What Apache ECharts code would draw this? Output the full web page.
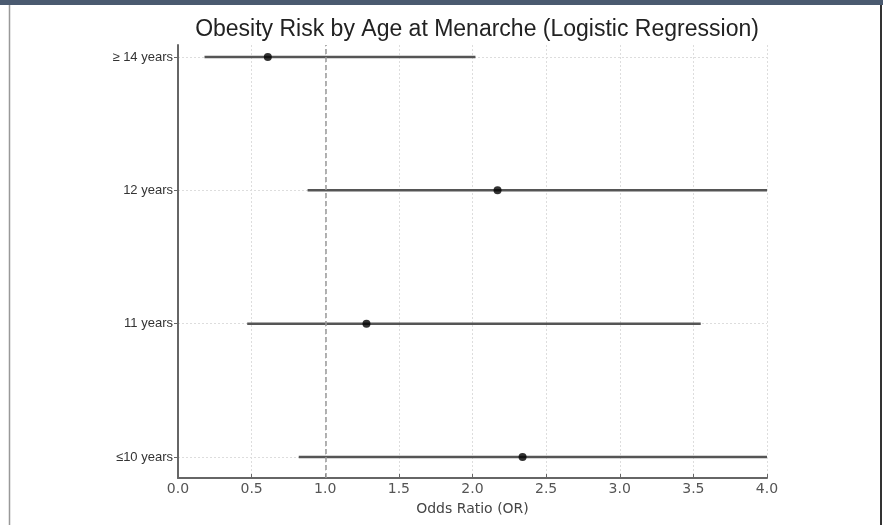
<!DOCTYPE html>
<html>
<head>
<meta charset="utf-8">
<script src="https://cdn.jsdelivr.net/npm/echarts@6/dist/echarts.min.js"></script>
<style>html,body{margin:0;padding:0;background:#fff;}#c{width:883px;height:525px;}</style>
</head>
<body>
<div id="c"></div>
<script>
const categories = ['≤10 years', '11 years', '12 years', '≥ 14 years'];
const oddsRatio = [2.34, 1.28, 2.17, 0.61];
const ciLower = [0.82, 0.47, 0.88, 0.18];
const ciUpper = [4.5, 3.55, 4.5, 2.02];
const xTicks = [0, 0.5, 1.0, 1.5, 2.0, 2.5, 3.0, 3.5, 4.0];
const refLine = 1.0;

const chart = echarts.init(document.getElementById('c'), null, {renderer: 'canvas'});
const catIdx = categories.map((_, i) => i);

const option = {
  backgroundColor: '#fff',
  animation: false,
  title: {
    text: 'Obesity Risk by Age at Menarche (Logistic Regression)',
    left: 472, top: 13, textAlign: 'center',
    textStyle: {fontFamily: 'Liberation Sans', fontSize: 23, fontWeight: 'normal', color: '#222'}
  },
  grid: {left: 178, right: 116, top: 45, bottom: 47, containLabel: false},
  xAxis: {
    type: 'value', min: 0, max: 4, interval: 0.5,
    name: 'Odds Ratio (OR)', nameLocation: 'middle', nameGap: 24,
    nameTextStyle: {fontFamily: 'DejaVu Sans', fontSize: 14, color: '#444'},
    axisLine: {show: true, onZero: false, lineStyle: {color: '#666', width: 2}},
    axisTick: {show: true, inside: true, length: 4, lineStyle: {color: '#666', width: 1}},
    axisLabel: {fontFamily: 'DejaVu Sans', fontSize: 14, color: '#555', margin: 4,
      formatter: v => v.toFixed(1)},
    splitLine: {show: true, lineStyle: {color: '#ddd', type: [2, 2], width: 1}}
  },
  yAxis: {
    type: 'value', min: -0.157, max: 3.09,
    axisLine: {show: true, onZero: false, lineStyle: {color: '#666', width: 2}},
    axisTick: {show: true, customValues: catIdx, length: 4, lineStyle: {color: '#666', width: 1}},
    axisLabel: {customValues: catIdx, fontFamily: 'Liberation Sans', fontSize: 13, color: '#333', margin: 5,
      formatter: v => categories[Math.round(v)]},
    splitLine: {show: false}
  },
  series: [
    {
      type: 'line', data: [], silent: true, z: 0,
      markLine: {
        silent: true, symbol: 'none', label: {show: false}, z: 0,
        lineStyle: {color: '#ddd', type: [2, 2], width: 1},
        data: catIdx.map(i => ({yAxis: i}))
      }
    },
    {
      type: 'custom', clip: true, silent: true, z: 4,
      data: catIdx.map(i => [ciLower[i], ciUpper[i], i]),
      renderItem: function (params, api) {
        const a = api.coord([api.value(0), api.value(2)]);
        const b = api.coord([api.value(1), api.value(2)]);
        return {type: 'line', shape: {x1: a[0], y1: a[1], x2: b[0], y2: b[1]},
          style: {stroke: '#555', lineWidth: 2.5}};
      },
      encode: {x: [0, 1], y: 2}
    },
    {
      type: 'line', data: [], silent: true, z: 3,
      markLine: {
        silent: true, symbol: 'none', label: {show: false},
        lineStyle: {color: '#999', type: [5, 3], width: 1.5},
        data: [{xAxis: refLine}]
      }
    },
    {
      type: 'scatter', z: 5, symbol: 'circle', symbolSize: 8,
      itemStyle: {color: '#000'},
      data: catIdx.map(i => [oddsRatio[i], i])
    }
  ],
  graphic: [
    {type: 'rect', shape: {x: 0, y: 0, width: 883, height: 5}, style: {fill: '#4a5a70'}, z: 100},
    {type: 'line', shape: {x1: 9.5, y1: 5, x2: 9.5, y2: 525}, style: {stroke: '#999', lineWidth: 1.5}, z: 100},
    {type: 'line', shape: {x1: 881, y1: 5, x2: 881, y2: 525}, style: {stroke: '#333', lineWidth: 2}, z: 100}
  ]
};
chart.setOption(option);
</script>
</body>
</html>
